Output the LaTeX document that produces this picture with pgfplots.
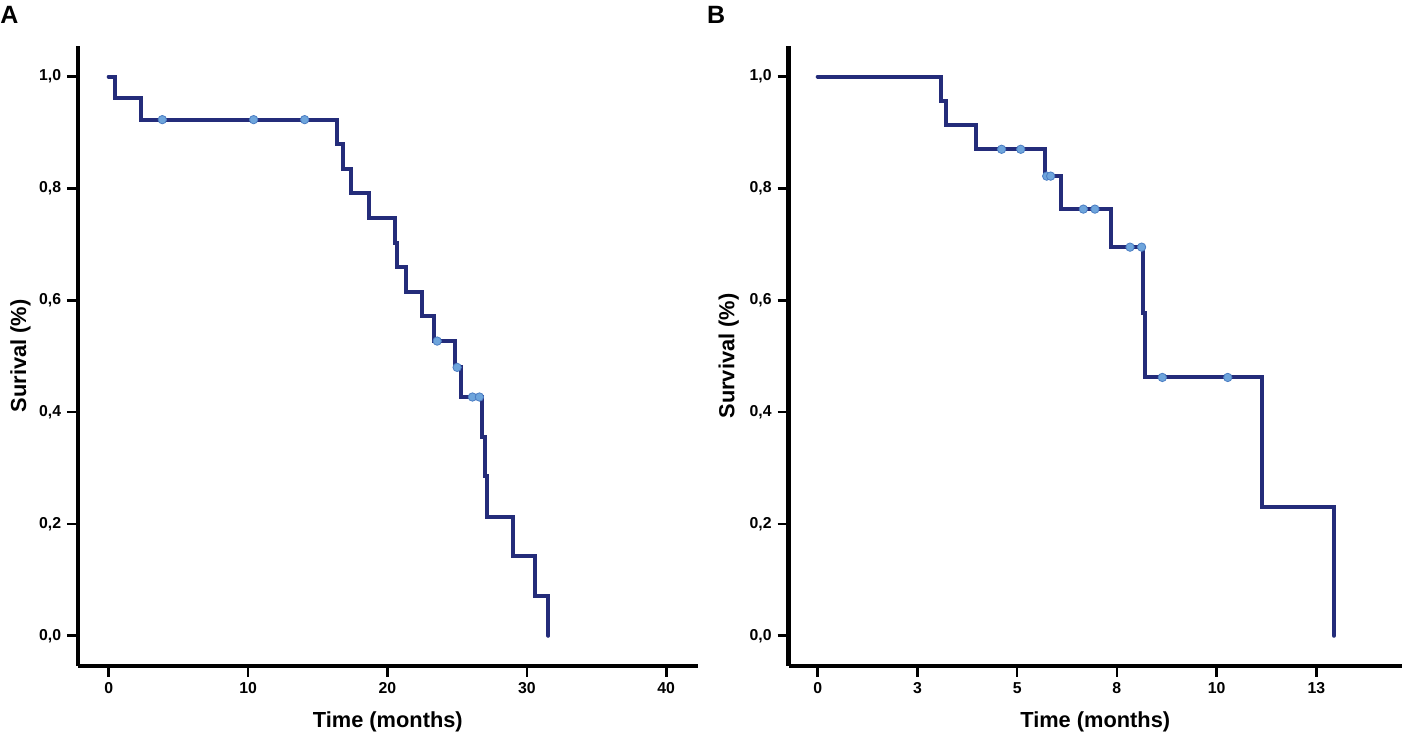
\documentclass[border=0pt]{standalone}
\usepackage{fontspec}
\setmainfont{Liberation Sans}
\usepackage{pgfplots}
\pgfplotsset{compat=1.18}
\definecolor{kmline}{RGB}{36,44,122}
\definecolor{kmfill}{RGB}{110,165,220}
\definecolor{kmedge}{RGB}{75,125,195}
\pgfplotsset{kmaxis/.style={
  scale only axis, height=310pt,
  axis x line*=bottom, axis y line*=left,
  axis line style={line width=2.2pt, black},
  tick align=outside,
  xtick pos=left, ytick pos=left,
  major tick length=5.5pt,
  every major tick/.append style={black, line width=1.3pt},
  /pgf/number format/assume math mode=true,
  ymin=-0.054, ymax=1.0547,
  ytick={0,0.2,0.4,0.6,0.8,1.0},
  yticklabels={{0,0},{0,2},{0,4},{0,6},{0,8},{1,0}},
  tick label style={font=\fontsize{7.9}{9}\selectfont\bfseries},
  yticklabel style={xshift=0.6pt},
  xticklabel style={yshift=0.6pt},
  label style={font=\fontsize{10.9}{13}\selectfont\bfseries},
  xlabel style={at={(axis description cs:0.5,-0.0903)}, anchor=center},
  clip=false,
  anchor=south west,
}}
\begin{document}
\begin{tikzpicture}
\path[use as bounding box] (0,0) rectangle (701.5pt,369pt);
\node[anchor=base west, inner sep=0, font=\fontsize{12.5}{14}\selectfont\bfseries] at (0pt,357pt) {A};
\node[anchor=base west, inner sep=0, font=\fontsize{12.5}{14}\selectfont\bfseries] at (353.4pt,357pt) {B};
% Panel A
\begin{axis}[kmaxis, at={(39pt,36pt)}, width=309.85pt,
  xmin=-2.2, xmax=42.26, xtick={0,10,20,30,40},
  xticklabels={0,10,20,30,40},
  xlabel={Time (months)}, ylabel={Surival (\%)},
  ylabel style={at={(axis description cs:-0.0926,0.5)}, anchor=center}]
\addplot[const plot, kmline, line width=2pt, line cap=round] coordinates {
 (0,1.0) (0.48,0.962) (2.34,0.923) (16.35,0.879) (16.82,0.835) (17.42,0.791)
 (18.69,0.747) (20.55,0.703) (20.72,0.659) (21.32,0.615) (22.47,0.571)
 (23.33,0.527) (24.84,0.480) (25.27,0.427) (26.81,0.356) (27.0,0.285)
 (27.12,0.213) (29.0,0.142) (30.6,0.071) (31.55,0.0)};
\addplot[only marks, mark=*, mark size=2.1pt, mark options={fill=kmfill, draw=kmedge, line width=0.4pt}] coordinates {
 (3.85,0.923) (10.4,0.923) (14.06,0.923) (23.57,0.527) (25.0,0.480) (26.1,0.427) (26.6,0.427)};
\pgfplotsinvokeforeach{0,10,20,30,40}{\draw[black, line width=1.3pt] (axis cs:#1,-0.054) -- ++(0pt,-5.5pt);}
\pgfplotsinvokeforeach{0,0.2,0.4,0.6,0.8,1.0}{\draw[black, line width=1.3pt] (axis cs:-2.2,#1) -- ++(-5.5pt,0pt);}
\end{axis}
% Panel B
\begin{axis}[kmaxis, at={(394.25pt,36pt)}, width=306.75pt,
  xmin=-0.732, xmax=14.648, xtick={0,2.5,5,7.5,10,12.5},
  xticklabels={0,3,5,8,10,13},
  xlabel={Time (months)}, ylabel={Survival (\%)},
  ylabel style={at={(axis description cs:-0.0975,0.5)}, anchor=center}]
\addplot[const plot, kmline, line width=2pt, line cap=round] coordinates {
 (0,1.0) (3.10,0.957) (3.22,0.913) (3.98,0.870) (5.70,0.822) (6.10,0.763)
 (7.35,0.695) (8.16,0.578) (8.21,0.462) (11.14,0.231) (12.94,0.0)};
\addplot[only marks, mark=*, mark size=2.1pt, mark options={fill=kmfill, draw=kmedge, line width=0.4pt}] coordinates {
 (4.61,0.870) (5.09,0.870) (5.74,0.822) (5.84,0.822) (6.66,0.763) (6.95,0.763)
 (7.83,0.695) (8.12,0.695) (8.64,0.462) (10.28,0.462)};
\pgfplotsinvokeforeach{0,2.5,5,7.5,10,12.5}{\draw[black, line width=1.3pt] (axis cs:#1,-0.054) -- ++(0pt,-5.5pt);}
\pgfplotsinvokeforeach{0,0.2,0.4,0.6,0.8,1.0}{\draw[black, line width=1.3pt] (axis cs:-0.732,#1) -- ++(-5.5pt,0pt);}
\end{axis}
\end{tikzpicture}
\end{document}
